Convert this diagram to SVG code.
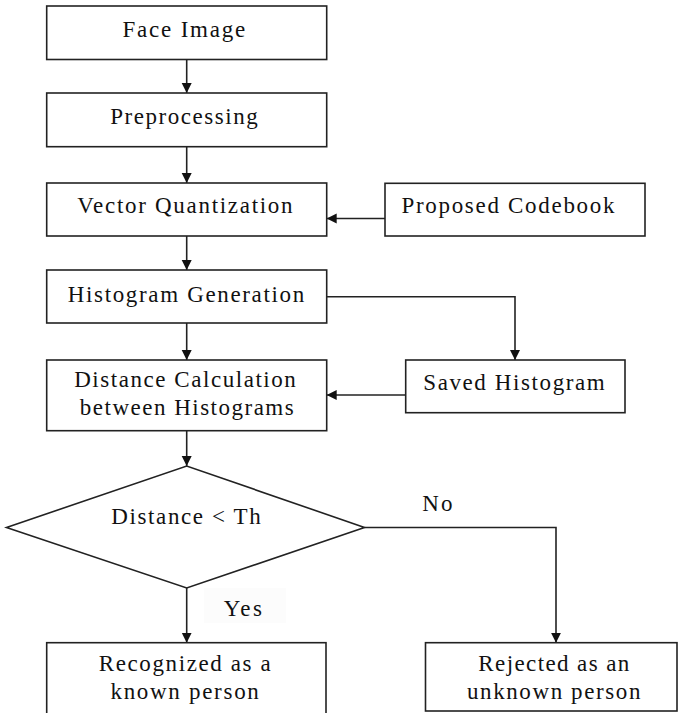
<svg xmlns="http://www.w3.org/2000/svg" width="678" height="713" viewBox="0 0 678 713">
<style>
.box{fill:#fff;stroke:#222;stroke-width:1.6}
.c{fill:none;stroke:#222;stroke-width:1.6}
</style>
<defs>
<marker id="ah" markerUnits="userSpaceOnUse" markerWidth="12" markerHeight="12" refX="10" refY="5" orient="auto">
<path d="M0,0 L10,5 L0,10 z" fill="#111"/>
</marker>
</defs>
<rect width="678" height="713" fill="#fff"/>
<g id="connectors">
<line class="c" x1="186.7" y1="60" x2="186.7" y2="93" marker-end="url(#ah)"/>
<line class="c" x1="186.7" y1="147" x2="186.7" y2="183" marker-end="url(#ah)"/>
<line class="c" x1="186.7" y1="236" x2="186.7" y2="270" marker-end="url(#ah)"/>
<line class="c" x1="186.7" y1="323" x2="186.7" y2="360" marker-end="url(#ah)"/>
<line class="c" x1="186.7" y1="431" x2="186.7" y2="466" marker-end="url(#ah)"/>
<line class="c" x1="186.7" y1="588" x2="186.7" y2="642.7" marker-end="url(#ah)"/>
<line class="c" x1="385" y1="218.5" x2="326.7" y2="218.5" marker-end="url(#ah)"/>
<polyline class="c" points="326.7,296.7 515,296.7 515,360" marker-end="url(#ah)"/>
<line class="c" x1="405.7" y1="395" x2="326.7" y2="395" marker-end="url(#ah)"/>
<polyline class="c" points="364.5,527.5 556,527.5 556,642.7" marker-end="url(#ah)"/>
</g>
<g id="n-face"><rect class="box" x="46.7" y="6" width="280" height="53.5"/><text x="184.8" y="37" font-family="Liberation Serif" font-size="23" letter-spacing="1.8" text-anchor="middle" fill="#111">Face Image</text></g>
<g id="n-pre"><rect class="box" x="46.7" y="93" width="280" height="53.7"/><text x="184.8" y="124" font-family="Liberation Serif" font-size="23" letter-spacing="1.55" text-anchor="middle" fill="#111">Preprocessing</text></g>
<g id="n-vq"><rect class="box" x="46.7" y="183" width="280" height="53"/><text x="185.8" y="213" font-family="Liberation Serif" font-size="23" letter-spacing="1.7" text-anchor="middle" fill="#111">Vector Quantization</text></g>
<g id="n-cb"><rect class="box" x="385" y="183.3" width="260" height="52.7"/><text x="508.8" y="213.3" font-family="Liberation Serif" font-size="23" letter-spacing="1.7" text-anchor="middle" fill="#111">Proposed Codebook</text></g>
<g id="n-hg"><rect class="box" x="46.7" y="270" width="280" height="53"/><text x="186.8" y="301.7" font-family="Liberation Serif" font-size="23" letter-spacing="1.65" text-anchor="middle" fill="#111">Histogram Generation</text></g>
<g id="n-dc"><rect class="box" x="46.7" y="360" width="280" height="70.7"/><text x="185.8" y="386.7" font-family="Liberation Serif" font-size="23" letter-spacing="1.55" text-anchor="middle" fill="#111">Distance Calculation</text><text x="187.5" y="415" font-family="Liberation Serif" font-size="23" letter-spacing="1.5" text-anchor="middle" fill="#111">between Histograms</text></g>
<g id="n-sh"><rect class="box" x="405.7" y="360" width="219.3" height="52.7"/><text x="514.8" y="390" font-family="Liberation Serif" font-size="23" letter-spacing="1.6" text-anchor="middle" fill="#111">Saved Histogram</text></g>
<g id="n-dec"><polygon class="box" points="6.5,527.5 186.7,466 364.5,527.5 186.7,588"/><text x="186.8" y="524" font-family="Liberation Serif" font-size="23" letter-spacing="1.6" text-anchor="middle" fill="#111">Distance &lt; Th</text></g>
<rect x="204" y="588" width="82" height="35" fill="#fcfcfc"/>
<text x="244" y="615.7" font-family="Liberation Serif" font-size="23" letter-spacing="2.4" text-anchor="middle" fill="#111">Yes</text>
<text x="438.5" y="510.7" font-family="Liberation Serif" font-size="23" letter-spacing="2.3" text-anchor="middle" fill="#111">No</text>
<g id="n-rec"><rect class="box" x="46.7" y="642.7" width="279.3" height="75"/><text x="185.5" y="670.7" font-family="Liberation Serif" font-size="23" letter-spacing="1.6" text-anchor="middle" fill="#111">Recognized as a</text><text x="185.5" y="699" font-family="Liberation Serif" font-size="23" letter-spacing="1.7" text-anchor="middle" fill="#111">known person</text></g>
<g id="n-rej"><rect class="box" x="425.5" y="642.7" width="251.5" height="68.3"/><text x="554.5" y="670.7" font-family="Liberation Serif" font-size="23" letter-spacing="1.4" text-anchor="middle" fill="#111">Rejected as an</text><text x="554.5" y="699" font-family="Liberation Serif" font-size="23" letter-spacing="1.6" text-anchor="middle" fill="#111">unknown person</text></g>
</svg>
